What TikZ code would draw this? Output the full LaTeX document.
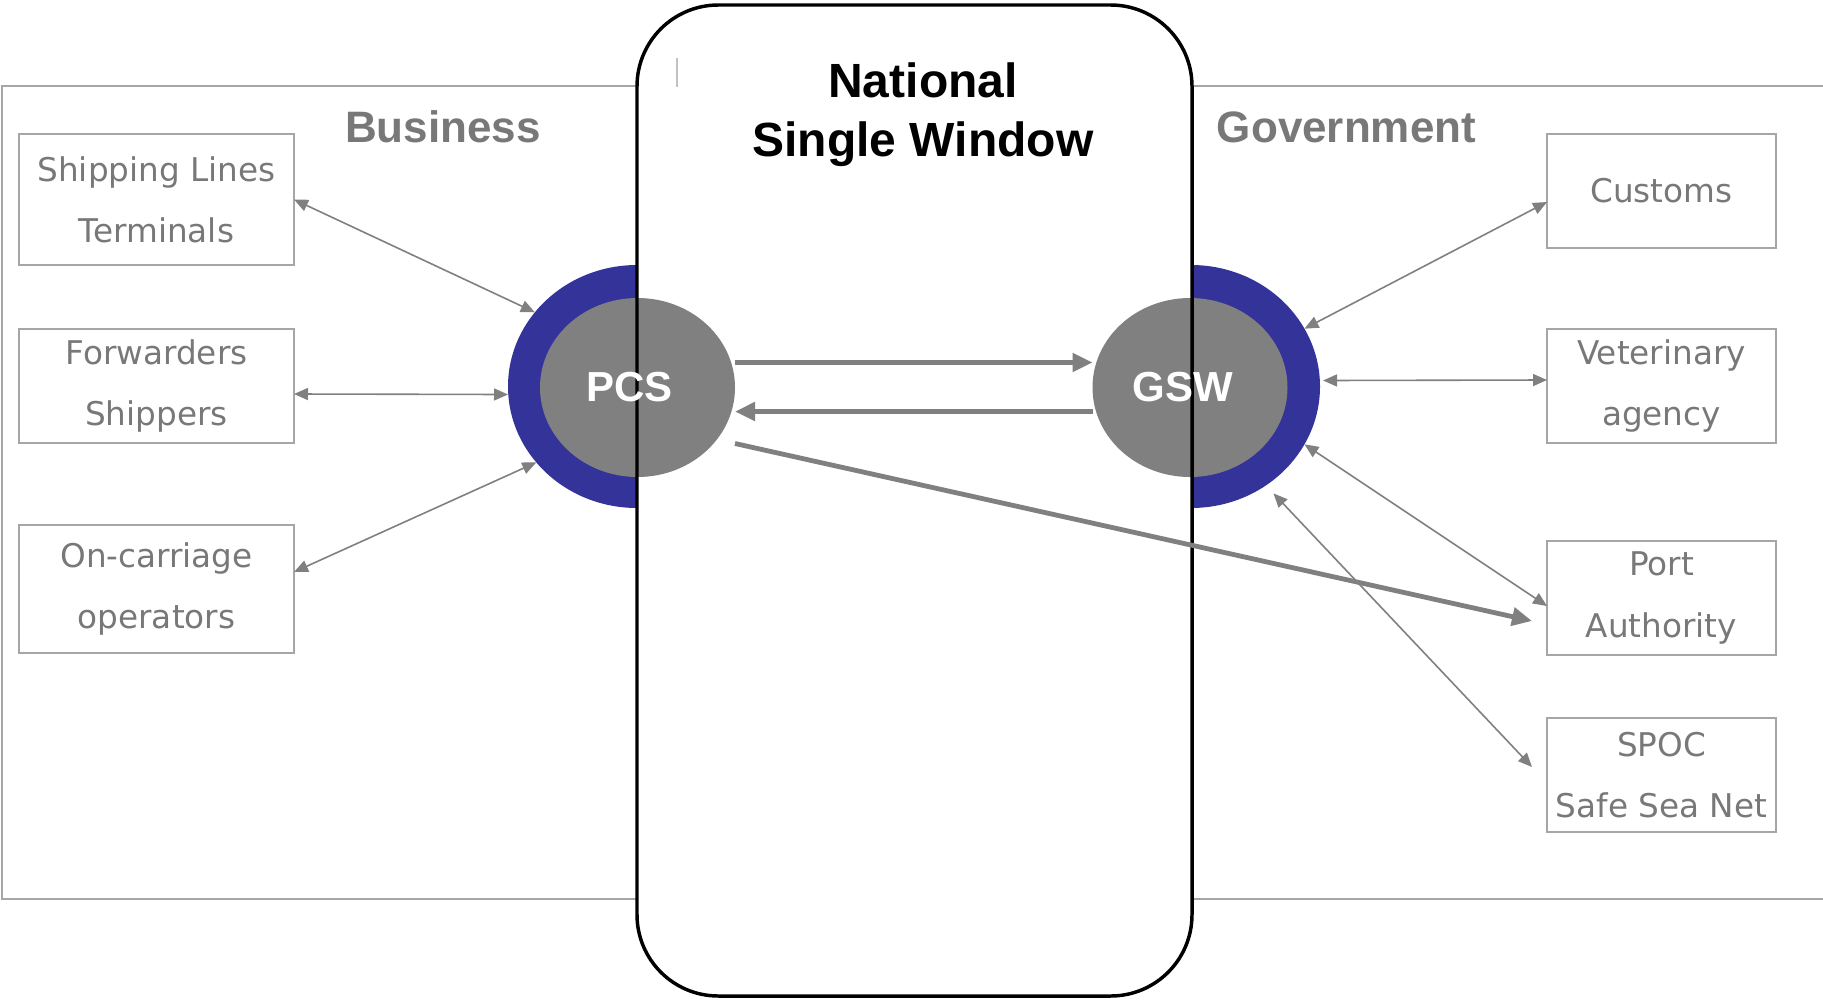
\documentclass[tikz,border=0pt]{standalone}
\usepackage{fontspec}
\setmainfont{Liberation Sans}
\newfontfamily\boxfont{DejaVu Sans}
\usetikzlibrary{shapes.geometric,arrows.meta,calc}
\tikzset{every picture/.style={line width=0.75pt}}

\definecolor{ringblue}{RGB}{51,51,153}
\definecolor{discgray}{RGB}{128,128,128}
\definecolor{framegray}{RGB}{166,166,166}
\definecolor{textgray}{RGB}{120,120,120}

\tikzset{
  party/.style={draw=framegray, line width=1.1pt, minimum width=206.25pt, inner sep=0pt, outer sep=0pt,
    align=center, text=textgray, font=\boxfont\fontsize{24.5}{46}\selectfont},
  agency/.style={party, minimum width=171.75pt},
  ring/.style={ellipse, fill=ringblue, minimum width=193.5pt, minimum height=182.25pt, inner sep=0pt, outer sep=0pt},
  disc/.style={ellipse, fill=discgray, minimum width=146.25pt, minimum height=134.25pt, inner sep=0pt, outer sep=0pt},
  disclabel/.style={text=white, font=\bfseries\fontsize{31.5}{36}\selectfont},
  sector/.style={text=textgray, font=\bfseries\fontsize{33}{40}\selectfont},
  link/.style={draw=discgray, line width=1.2pt, arrows={Triangle[length=10.5pt,width=9pt]-Triangle[length=10.5pt,width=9pt]}},
  flow/.style={draw=discgray, line width=3.6pt, arrows={-Triangle[length=15pt,width=13.5pt]}},
}

\begin{document}
\begin{tikzpicture}[x=0.75pt,y=0.75pt,yscale=-1,xscale=1]
\useasboundingbox (0,0) rectangle (1823,1000);

%Shape: Frame
\draw [framegray, line width=1.5pt] (2,86) rectangle (1850,899);

%Shape: Rings
\node [ring] (pcsring) at (637,386.5) {};
\node [ring] (gswring) at (1191,386.5) {};

%Shape: Single window (fill)
\node [fill=white, rounded corners=61pt, minimum width=416.25pt, minimum height=743.25pt, inner sep=0pt, outer sep=0pt] (nsw) at (914.5,500.5) {};
\draw [framegray!70, line width=0.8pt] (677,58) -- (677,87);

%Shape: Discs
\node [disc] (pcs) at (637.5,387.5) {};
\node [disc] (gsw) at (1190,387.5) {};

%Shape: Single window (border)
\draw [line width=2.6pt, rounded corners=61pt] (nsw.north west) rectangle (nsw.south east);

% Text Node
\node [disclabel] (pcstext) at ($(pcs)+(-8,0)$) {PCS};
% Text Node
\node [disclabel] (gswtext) at ($(gsw)+(-7,0)$) {GSW};
% Text Node
\node [font=\bfseries\fontsize{36}{44.25}\selectfont, align=center] (title) at (923,115) {National\\Single Window};
% Text Node
\node [sector, anchor=base] (biz) at (443,142) {Business};
% Text Node
\node [sector, anchor=base] (gov) at (1346.5,142) {Government};

% Business side
\node [party, minimum height=98.25pt] (ship) at (156.5,199.5) {Shipping Lines\\Terminals};
\node [party, minimum height=85.5pt] (fwd) at (156.5,386) {Forwarders\\Shippers};
\node [party, minimum height=96pt] (carr) at (156.5,589) {On-carriage\\operators};

% Government side
\node [agency, minimum height=85.5pt] (cust) at (1661.5,191) {Customs};
\node [agency, minimum height=85.5pt] (vet) at (1661.5,386) {Veterinary\\agency};
\node [agency, minimum height=85.5pt] (port) at (1661.5,598) {Port\\Authority};
\node [agency, minimum height=85.5pt] (spoc) at (1661.5,775) {SPOC\\Safe Sea Net};

%Straight Lines: links
\draw [link] (ship.east) -- (pcsring.144);
\draw [link] ($(fwd.east)+(0,8)$) -- ($(pcsring.west)+(0,8)$);
\draw [link] ($(carr.east)+(0,-17)$) -- (pcsring.217);
\draw [link] ($(cust.west)+(0,11)$) -- (gswring.27);
\draw [link] ($(vet.west)+(0,-6)$) -- ($(gswring.east)+(3,-6)$);
\draw [link] ($(port.west)+(0,8)$) -- (gswring.-27);
\draw [link] ($(spoc.west)+(-15,-8)$) -- ($(gswring.-52)+(6,9)$);

%Straight Lines: flows
\draw [flow] ($(pcs.east)+(0,-25)$) -- ($(gsw.west)+(0,-25)$);
\draw [flow] ($(gsw.west)+(0,24)$) -- ($(pcs.east)+(0,24)$);
\draw [flow] ($(pcs.east)+(0,56)$) -- ($(port.west)+(-15,23)$);

\end{tikzpicture}
\end{document}
